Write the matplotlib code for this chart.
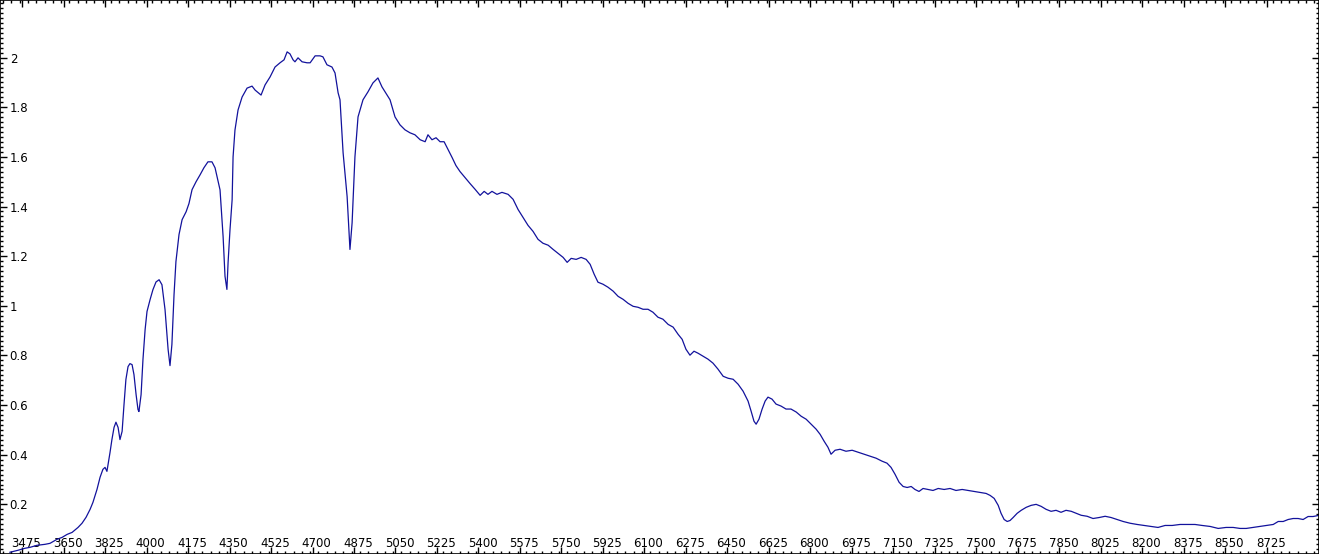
import matplotlib
matplotlib.use('Agg')
import matplotlib.pyplot as plt
import matplotlib.transforms as mtransforms
from matplotlib.ticker import MultipleLocator
import numpy as np

# spectrum (wavelength in A, relative flux)
wavelength = [
    3424, 3458, 3487, 3509, 3538, 3572, 3593, 3622, 3644, 3665, 3686, 3711,
    3728, 3745, 3762, 3774, 3791, 3804, 3816, 3825, 3833, 3846, 3854, 3863,
    3871, 3880, 3888, 3897, 3905, 3913, 3922, 3930, 3939, 3947, 3956, 3964,
    3968, 3977, 3985, 3994, 4002, 4015, 4027, 4040, 4053, 4065, 4078, 4091,
    4099, 4107, 4116, 4124, 4137, 4150, 4167, 4179, 4192, 4209, 4226, 4242,
    4259, 4276, 4289, 4302, 4310, 4323, 4331, 4339, 4344, 4352, 4361, 4365,
    4373, 4386, 4403, 4424, 4445, 4458, 4483, 4500, 4521, 4542, 4563, 4580,
    4593, 4605, 4618, 4626, 4639, 4656, 4677, 4690, 4711, 4732, 4744, 4761,
    4782, 4795, 4808, 4816, 4829, 4846, 4858, 4867, 4879, 4892, 4913, 4934,
    4955, 4976, 4993, 5006, 5027, 5048, 5069, 5090, 5111, 5132, 5154, 5175,
    5187, 5204, 5221, 5238, 5255, 5272, 5289, 5305, 5322, 5343, 5364, 5386,
    5407, 5424, 5440, 5457, 5478, 5499, 5525, 5546, 5567, 5588, 5609, 5630,
    5651, 5672, 5694, 5715, 5736, 5757, 5774, 5791, 5812, 5833, 5854, 5871,
    5888, 5904, 5925, 5946, 5968, 5989, 6010, 6031, 6052, 6073, 6094, 6115,
    6136, 6157, 6178, 6200, 6221, 6242, 6259, 6275, 6292, 6309, 6326, 6347,
    6368, 6389, 6410, 6432, 6453, 6474, 6495, 6516, 6537, 6550, 6562, 6571,
    6583, 6596, 6609, 6621, 6638, 6655, 6676, 6697, 6718, 6740, 6761, 6782,
    6803, 6824, 6841, 6858, 6874, 6887, 6904, 6925, 6950, 6976, 7001, 7026,
    7052, 7077, 7102, 7123, 7140, 7157, 7174, 7191, 7208, 7225, 7241, 7258,
    7275, 7296, 7317, 7339, 7364, 7389, 7414, 7440, 7465, 7490, 7515, 7541,
    7558, 7575, 7592, 7604, 7617, 7630, 7642, 7655, 7672, 7689, 7710, 7731,
    7752, 7773, 7794, 7815, 7836, 7857, 7878, 7900, 7921, 7942, 7967, 7992,
    8018, 8043, 8068, 8093, 8119, 8148, 8178, 8207, 8233, 8266, 8296, 8326,
    8359, 8389, 8422, 8452, 8486, 8520, 8553, 8583, 8612, 8638, 8667, 8697,
    8726, 8752, 8773, 8794, 8815, 8836, 8857, 8878, 8899, 8920, 8941,
]
flux = [
    0.007, 0.015, 0.023, 0.027, 0.035, 0.039, 0.043, 0.059, 0.067, 0.079, 0.087, 0.107,
    0.124, 0.148, 0.180, 0.208, 0.260, 0.309, 0.341, 0.349, 0.333, 0.409, 0.461, 0.510,
    0.531, 0.510, 0.461, 0.494, 0.602, 0.703, 0.755, 0.767, 0.763, 0.723, 0.642, 0.582,
    0.574, 0.642, 0.784, 0.904, 0.977, 1.025, 1.065, 1.096, 1.105, 1.085, 0.985, 0.824,
    0.759, 0.844, 1.045, 1.178, 1.287, 1.347, 1.379, 1.412, 1.468, 1.500, 1.528, 1.556,
    1.580, 1.580, 1.556, 1.500, 1.467, 1.278, 1.119, 1.066, 1.175, 1.306, 1.427, 1.600,
    1.708, 1.789, 1.841, 1.877, 1.885, 1.869, 1.849, 1.890, 1.922, 1.962, 1.979, 1.991,
    2.023, 2.015, 1.991, 1.983, 1.999, 1.983, 1.979, 1.979, 2.007, 2.007, 2.003, 1.971,
    1.962, 1.938, 1.858, 1.830, 1.617, 1.440, 1.227, 1.334, 1.600, 1.761, 1.830, 1.862,
    1.898, 1.918, 1.882, 1.862, 1.830, 1.761, 1.729, 1.709, 1.697, 1.689, 1.669, 1.661,
    1.689, 1.669, 1.677, 1.661, 1.661, 1.629, 1.597, 1.565, 1.541, 1.517, 1.493, 1.469,
    1.445, 1.461, 1.449, 1.461, 1.449, 1.457, 1.449, 1.429, 1.388, 1.356, 1.324, 1.300,
    1.268, 1.252, 1.244, 1.227, 1.211, 1.195, 1.175, 1.191, 1.187, 1.195, 1.187, 1.167,
    1.127, 1.095, 1.087, 1.075, 1.059, 1.038, 1.026, 1.010, 0.998, 0.994, 0.986, 0.986,
    0.974, 0.954, 0.946, 0.925, 0.914, 0.885, 0.865, 0.825, 0.801, 0.817, 0.809, 0.797,
    0.785, 0.769, 0.745, 0.716, 0.708, 0.704, 0.684, 0.656, 0.616, 0.575, 0.535, 0.523,
    0.543, 0.583, 0.616, 0.632, 0.624, 0.604, 0.596, 0.584, 0.584, 0.572, 0.555, 0.543,
    0.523, 0.503, 0.482, 0.454, 0.430, 0.402, 0.418, 0.422, 0.414, 0.418, 0.410, 0.402,
    0.394, 0.386, 0.374, 0.366, 0.349, 0.321, 0.289, 0.272, 0.268, 0.272, 0.260, 0.252,
    0.264, 0.260, 0.256, 0.264, 0.260, 0.264, 0.256, 0.260, 0.256, 0.252, 0.248, 0.244,
    0.236, 0.224, 0.196, 0.164, 0.139, 0.131, 0.135, 0.147, 0.164, 0.176, 0.188, 0.196,
    0.200, 0.192, 0.180, 0.172, 0.176, 0.168, 0.176, 0.172, 0.164, 0.156, 0.152, 0.143,
    0.147, 0.152, 0.147, 0.139, 0.131, 0.124, 0.119, 0.115, 0.111, 0.107, 0.115, 0.115,
    0.119, 0.119, 0.119, 0.115, 0.111, 0.103, 0.107, 0.107, 0.103, 0.103, 0.107, 0.111,
    0.115, 0.119, 0.131, 0.131, 0.139, 0.143, 0.143, 0.139, 0.151, 0.151, 0.155,
]

xticks = np.arange(3475, 8726, 175)
yticks = [0.2, 0.4, 0.6, 0.8, 1, 1.2, 1.4, 1.6, 1.8, 2]
ylabels = ['0.2', '0.4', '0.6', '0.8', '1', '1.2', '1.4', '1.6', '1.8', '2']

fig = plt.figure(figsize=(13.19, 5.54), dpi=100)
ax = fig.add_axes([0, 0, 1, 1])
ax.plot(wavelength, flux, color='#12129c', lw=0.9)

ax.set_xlim(3382, 8945)
ax.set_ylim(0, 2.232)

ax.set_xticks(xticks)
ax.set_xticklabels([str(t) for t in xticks])
ax.xaxis.set_minor_locator(MultipleLocator(35))
ax.set_yticks(yticks)
ax.set_yticklabels(ylabels)
ax.yaxis.set_minor_locator(MultipleLocator(0.02))

ax.tick_params(which='both', direction='in', top=True, right=True,
               labelsize=8.5, colors='black')
ax.tick_params(which='major', length=5, width=1)
ax.tick_params(which='minor', length=2.5, width=1)
ax.tick_params(axis='x', pad=-12)
ax.tick_params(axis='y', pad=-7)
for lbl in ax.get_yticklabels():
    lbl.set_ha('left')
# labels sit slightly right of their tick in the original
shift = mtransforms.ScaledTranslation(4 / 100, 0, fig.dpi_scale_trans)
for lbl in ax.get_xticklabels():
    lbl.set_transform(lbl.get_transform() + shift)

for s in ax.spines.values():
    s.set_linewidth(1.2)
    s.set_color('black')

fig.savefig('out.png', dpi=100)
